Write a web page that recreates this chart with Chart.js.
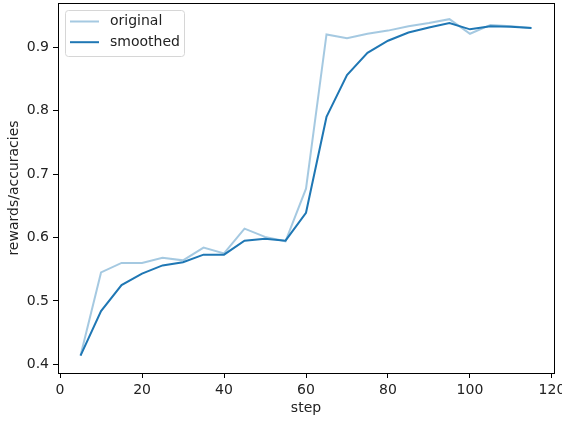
<!DOCTYPE html>
<html>
<head>
<meta charset="utf-8">
<script src="https://cdn.jsdelivr.net/npm/chart.js@4"></script>
<style>
  html, body { margin: 0; padding: 0; background: #fff; }
  #wrap { width: 562px; height: 425px; }
</style>
</head>
<body>
<div id="wrap"><canvas id="rewardChart" width="562" height="425"></canvas></div>
<script>
// values
const steps = [5, 10, 15, 20, 25, 30, 35, 40, 45, 50, 55, 60, 65, 70, 75, 80, 85, 90, 95, 100, 105, 110, 115];
const original = [0.414, 0.545, 0.560, 0.560, 0.568, 0.564, 0.584, 0.575, 0.614, 0.601, 0.594, 0.677,
                  0.920, 0.914, 0.921, 0.926, 0.933, 0.938, 0.944, 0.921, 0.935, 0.933, 0.930];
const smoothed = [0.414, 0.484, 0.525, 0.543, 0.556, 0.561, 0.573, 0.573, 0.595, 0.598, 0.595, 0.639,
                  0.790, 0.856, 0.891, 0.910, 0.923, 0.931, 0.938, 0.928, 0.933, 0.932, 0.930];
const xTicks = [0, 20, 40, 60, 80, 100, 120];
const yTicks = [0.4, 0.5, 0.6, 0.7, 0.8, 0.9];

const FONT = "'DejaVu Sans', sans-serif";
const BLUE = '#1f77b4';
const LIGHT = 'rgba(31, 119, 180, 0.4)';

function toPoints(ys) {
    return steps.map(function(s, i) { return { x: s, y: ys[i] }; });
}

// full box around the plot area, like matplotlib spines
const framePlugin = {
    id: 'frame',
    afterDatasetsDraw: function(chart) {
        const a = chart.chartArea;
        const ctx = chart.ctx;
        ctx.save();
        ctx.strokeStyle = '#000';
        ctx.lineWidth = 1;
        ctx.strokeRect(Math.round(a.left) + 0.5, Math.round(a.top) + 0.5,
                       Math.round(a.right - a.left), Math.round(a.bottom - a.top));
        ctx.restore();
    }
};

// legend box in the upper left corner
const legendPlugin = {
    id: 'mplLegend',
    afterDraw: function(chart) {
        const ctx = chart.ctx;
        const x = 65.5, y = 10.5, w = 119, h = 46, r = 3;
        ctx.save();
        ctx.beginPath();
        ctx.moveTo(x + r, y);
        ctx.arcTo(x + w, y, x + w, y + h, r);
        ctx.arcTo(x + w, y + h, x, y + h, r);
        ctx.arcTo(x, y + h, x, y, r);
        ctx.arcTo(x, y, x + w, y, r);
        ctx.closePath();
        ctx.fillStyle = 'rgba(255,255,255,0.8)';
        ctx.fill();
        ctx.strokeStyle = '#d6d6d6';
        ctx.lineWidth = 1;
        ctx.stroke();

        ctx.font = '14px ' + FONT;
        ctx.textBaseline = 'middle';
        ctx.fillStyle = '#222';
        chart.data.datasets.forEach(function(ds, i) {
            const ly = 21.5 + i * 20.7;
            ctx.beginPath();
            ctx.moveTo(70, ly);
            ctx.lineTo(99, ly);
            ctx.strokeStyle = ds.borderColor;
            ctx.lineWidth = 2;
            ctx.stroke();
            ctx.fillText(ds.label, 110, ly);
        });
        ctx.restore();
    }
};

new Chart(document.getElementById('rewardChart'), {
    type: 'line',
    data: {
        datasets: [
            {
                label: 'original',
                data: toPoints(original),
                borderColor: LIGHT,
                borderWidth: 2,
                pointRadius: 0,
                tension: 0
            },
            {
                label: 'smoothed',
                data: toPoints(smoothed),
                borderColor: BLUE,
                borderWidth: 2,
                pointRadius: 0,
                tension: 0
            }
        ]
    },
    options: {
        responsive: false,
        animation: false,
        events: [],
        layout: { padding: { left: 0, top: 3, right: 8, bottom: 0 } },
        plugins: {
            legend: { display: false },
            tooltip: { enabled: false }
        },
        scales: {
            x: {
                type: 'linear',
                min: -0.5,
                max: 120.5,
                afterBuildTicks: function(scale) {
                    scale.ticks = xTicks.map(function(v) { return { value: v }; });
                },
                afterFit: function(scale) {
                    scale.height = 52;
                    scale.paddingLeft = 0;
                    scale.paddingRight = 0;
                },
                grid: { drawOnChartArea: false, tickLength: 5, tickColor: '#000', tickWidth: 1 },
                border: { color: '#000', width: 1 },
                ticks: {
                    autoSkip: false,
                    maxRotation: 0,
                    padding: 4,
                    color: '#222',
                    font: { family: FONT, size: 14 },
                    callback: function(v) { return String(v); }
                },
                title: {
                    display: true,
                    text: 'step',
                    color: '#222',
                    font: { family: FONT, size: 14 },
                    padding: { top: 0, bottom: 8 }
                }
            },
            y: {
                type: 'linear',
                min: 0.3865,
                max: 0.9695,
                afterBuildTicks: function(scale) {
                    scale.ticks = yTicks.map(function(v) { return { value: v }; });
                },
                afterFit: function(scale) {
                    scale.width = 58;
                    scale.paddingTop = 0;
                    scale.paddingBottom = 0;
                },
                grid: { drawOnChartArea: false, tickLength: 5, tickColor: '#000', tickWidth: 1 },
                border: { color: '#000', width: 1 },
                ticks: {
                    padding: 4,
                    color: '#222',
                    font: { family: FONT, size: 14 },
                    callback: function(v) { return v.toFixed(1); }
                },
                title: {
                    display: true,
                    text: 'rewards/accuracies',
                    color: '#222',
                    font: { family: FONT, size: 14 },
                    padding: { top: 6, bottom: 0 }
                }
            }
        }
    },
    plugins: [framePlugin, legendPlugin]
});
</script>
</body>
</html>
